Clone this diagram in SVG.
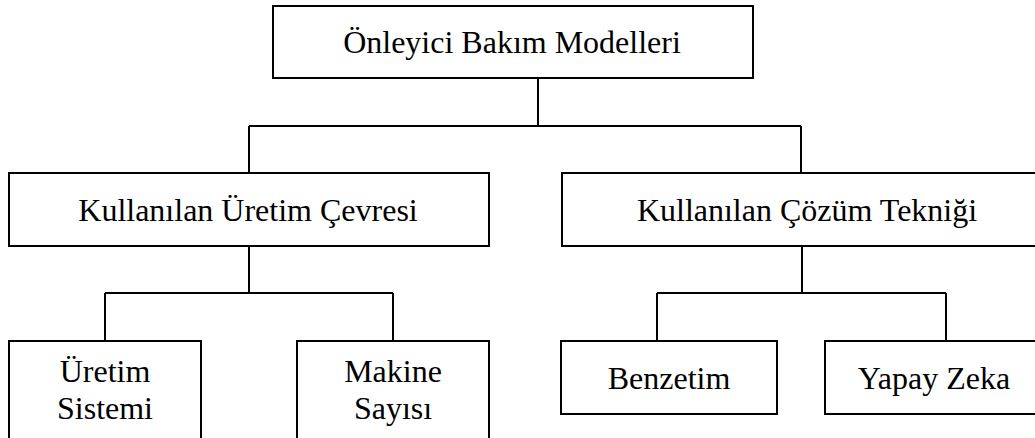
<svg xmlns="http://www.w3.org/2000/svg" width="1035" height="438" viewBox="0 0 1035 438">
<style>
.box{fill:#fff;stroke:#000;stroke-width:2}
.lbl{font-family:Liberation Serif,Times New Roman,serif;font-size:32px;fill:#000;text-anchor:middle}
.conn{fill:none;stroke:#000;stroke-width:2}
</style>
<rect width="1035" height="438" fill="#fff"/>
<g id="connectors">
<path class="conn" d="M538 78V126M249 126H801M249 126V173M801 126V173"/>
<path class="conn" d="M249 246V293M105 293H393M105 293V341M393 293V341"/>
<path class="conn" d="M802 246V293M657 293H946M657 293V341M946 293V341"/>
</g>
<g id="n-root">
<rect class="box" x="273" y="6" width="480" height="72"/>
<text class="lbl" x="512" y="53">Önleyici Bakım Modelleri</text>
</g>
<g id="n-uretim-cevresi">
<rect class="box" x="9" y="173" width="480" height="73"/>
<text class="lbl" x="248" y="221">Kullanılan Üretim Çevresi</text>
</g>
<g id="n-cozum-teknigi">
<rect class="box" x="562" y="173" width="490" height="73"/>
<text class="lbl" x="807" y="221">Kullanılan Çözüm Tekniği</text>
</g>
<g id="n-uretim-sistemi">
<rect class="box" x="9" y="341" width="192" height="110"/>
<text class="lbl" x="105" y="382">Üretim</text>
<text class="lbl" x="105" y="419">Sistemi</text>
</g>
<g id="n-makine-sayisi">
<rect class="box" x="297" y="341" width="192" height="110"/>
<text class="lbl" x="393" y="382">Makine</text>
<text class="lbl" x="393" y="419">Sayısı</text>
</g>
<g id="n-benzetim">
<rect class="box" x="561" y="341" width="216" height="73"/>
<text class="lbl" x="669" y="389">Benzetim</text>
</g>
<g id="n-yapay-zeka">
<rect class="box" x="825" y="341" width="220" height="73"/>
<text class="lbl" x="934" y="389">Yapay Zeka</text>
</g>
</svg>
